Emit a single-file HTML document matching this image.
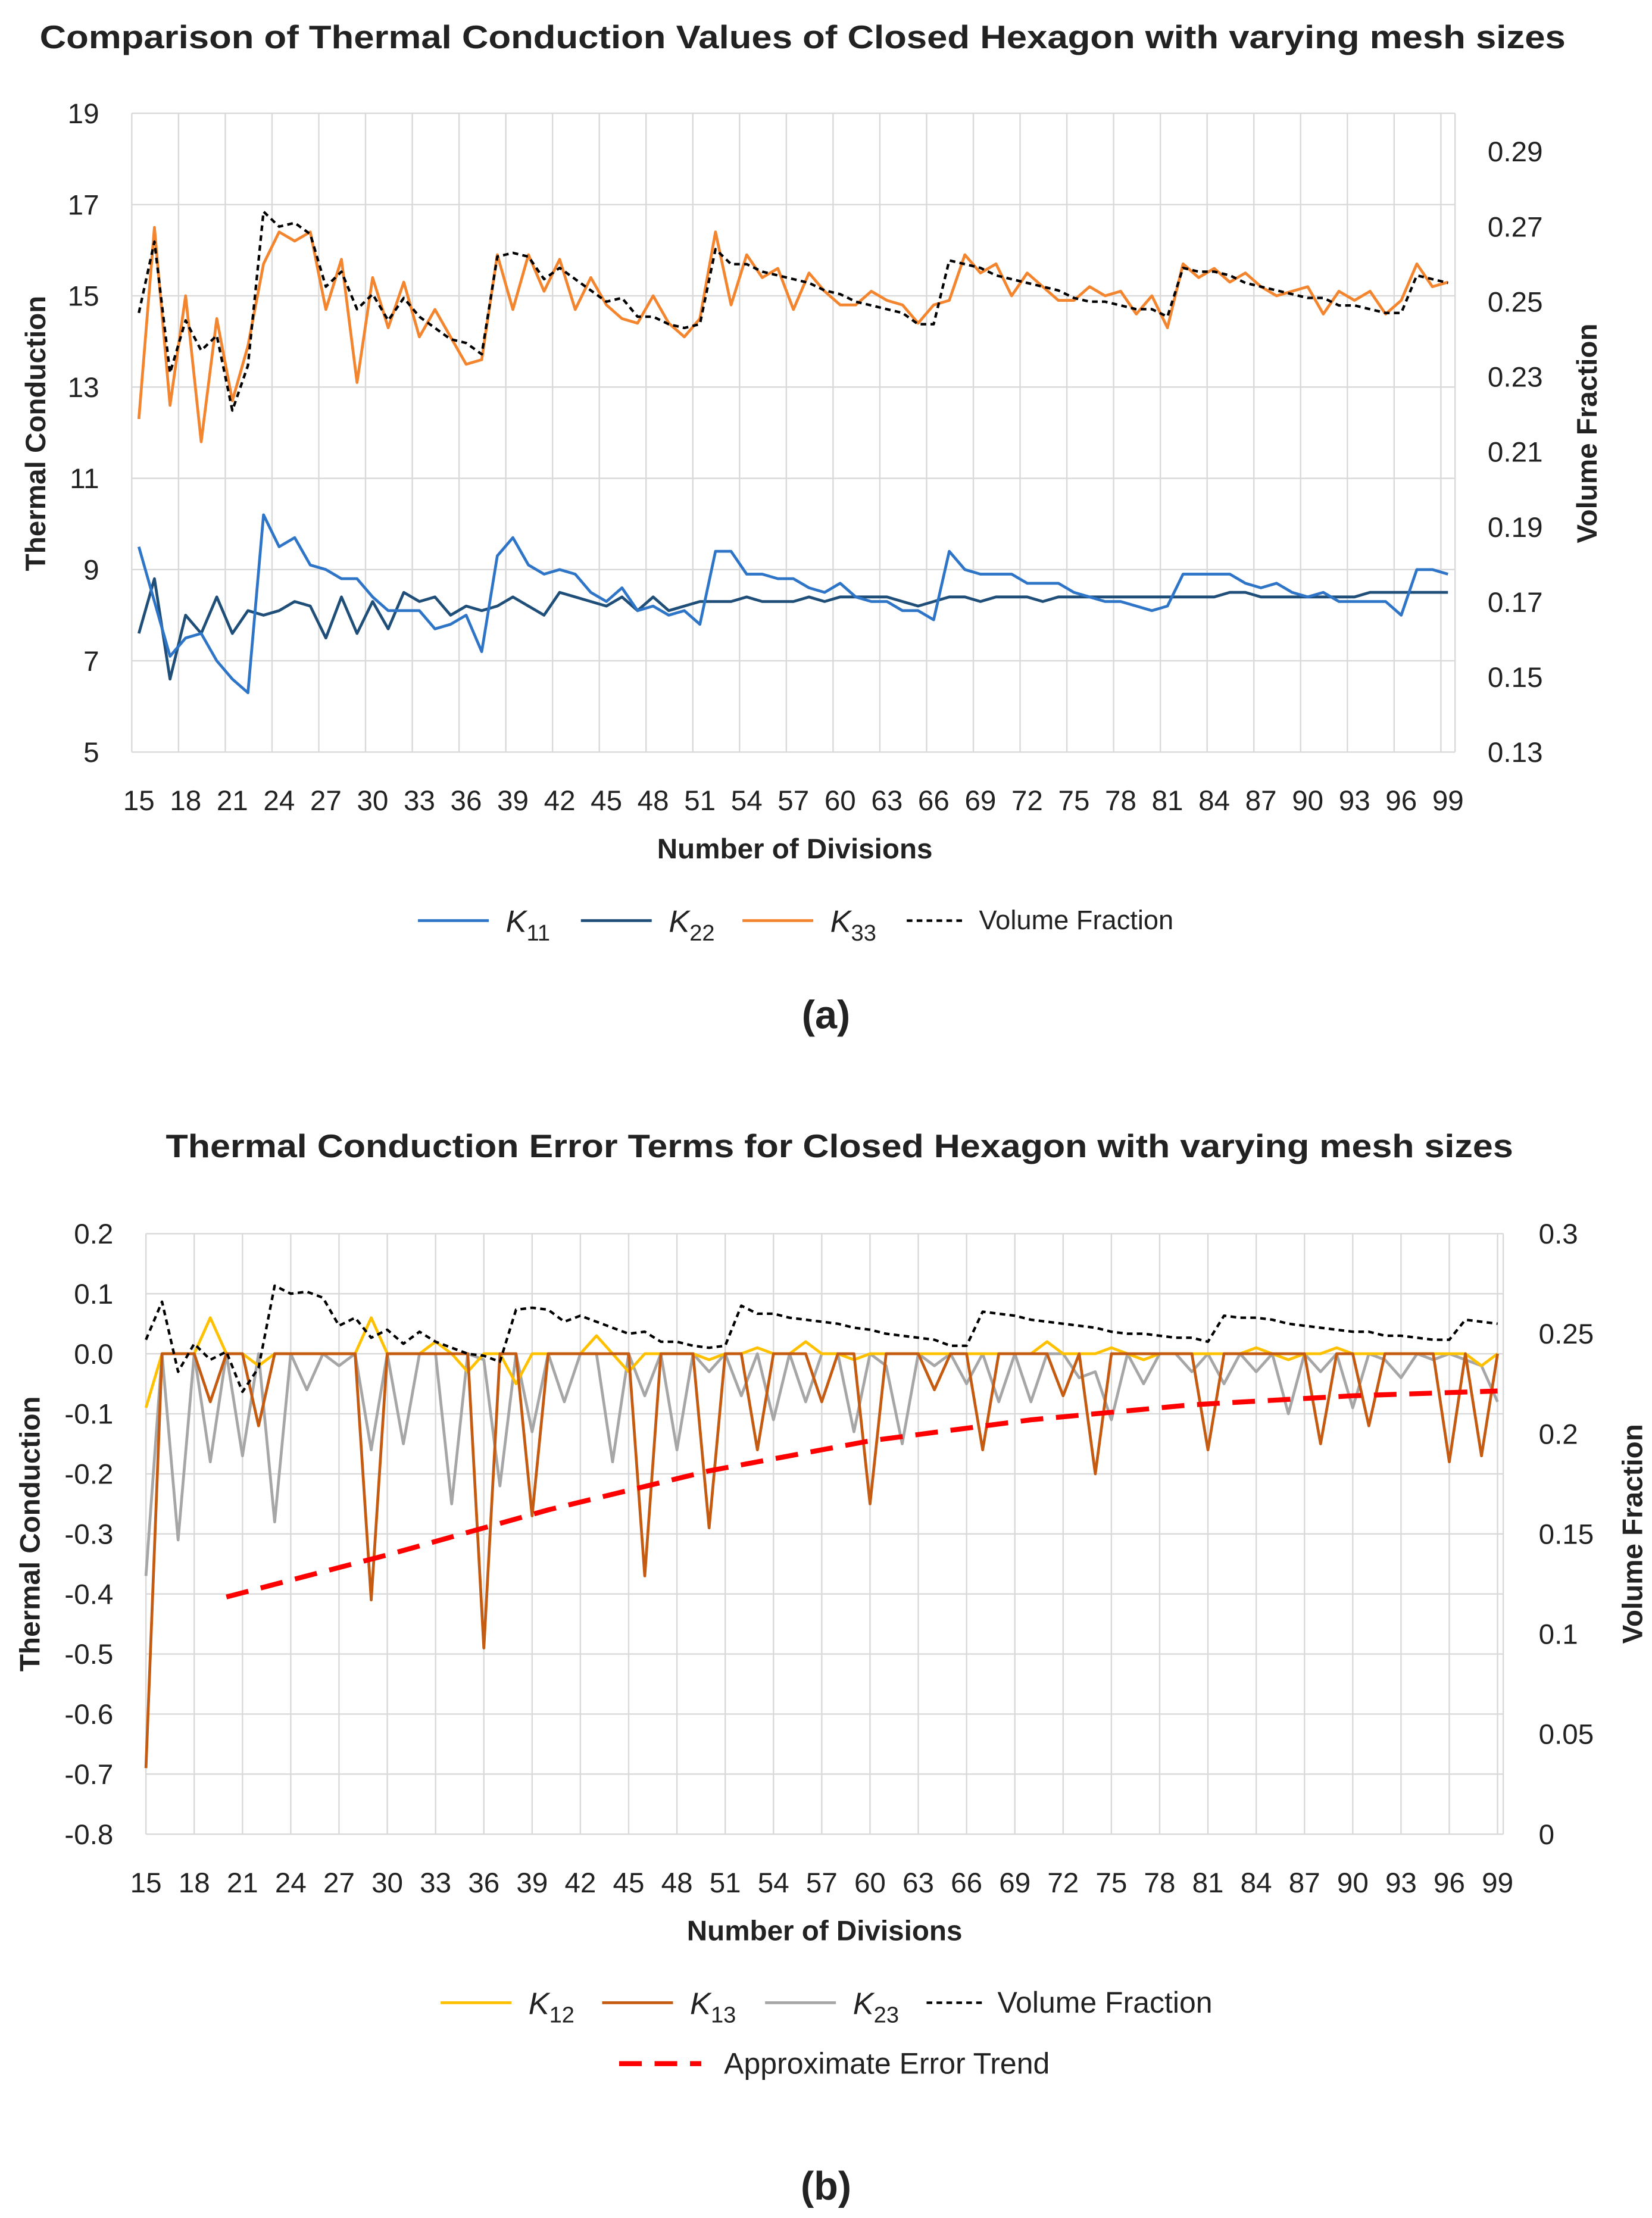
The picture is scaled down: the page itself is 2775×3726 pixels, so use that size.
<!DOCTYPE html>
<html><head><meta charset="utf-8"><style>
html,body{margin:0;padding:0;background:#fff}
svg{display:block}
text{font-family:"Liberation Sans",sans-serif;fill:#222}
</style></head><body>
<svg id="s" width="2775" height="3726" viewBox="0 0 1166 1566" preserveAspectRatio="none" xmlns="http://www.w3.org/2000/svg">
<rect width="1166" height="1566" fill="#fff"/>
<g id="ga"></g>
<g id="gb"></g>
</svg>
<script>
const divisions=[];for(let n=15;n<=99;n++)divisions.push(n);
const xTickLabels=[15,18,21,24,27,30,33,36,39,42,45,48,51,54,57,60,63,66,69,72,75,78,81,84,87,90,93,96,99];
const leftTicksA=[5,7,9,11,13,15,17,19];
const rightTicksA=[0.13,0.15,0.17,0.19,0.21,0.23,0.25,0.27,0.29];
const k11=[9.5,8.3,7.1,7.5,7.6,7.0,6.6,6.3,10.2,9.5,9.7,9.1,9.0,8.8,8.8,8.4,8.1,8.1,8.1,7.7,7.8,8.0,7.2,9.3,9.7,9.1,8.9,9.0,8.9,8.5,8.3,8.6,8.1,8.2,8.0,8.1,7.8,9.4,9.4,8.9,8.9,8.8,8.8,8.6,8.5,8.7,8.4,8.3,8.3,8.1,8.1,7.9,9.4,9.0,8.9,8.9,8.9,8.7,8.7,8.7,8.5,8.4,8.3,8.3,8.2,8.1,8.2,8.9,8.9,8.9,8.9,8.7,8.6,8.7,8.5,8.4,8.5,8.3,8.3,8.3,8.3,8.0,9.0,9.0,8.9];
const k22=[7.6,8.8,6.6,8.0,7.6,8.4,7.6,8.1,8.0,8.1,8.3,8.2,7.5,8.4,7.6,8.3,7.7,8.5,8.3,8.4,8.0,8.2,8.1,8.2,8.4,8.2,8.0,8.5,8.4,8.3,8.2,8.4,8.1,8.4,8.1,8.2,8.3,8.3,8.3,8.4,8.3,8.3,8.3,8.4,8.3,8.4,8.4,8.4,8.4,8.3,8.2,8.3,8.4,8.4,8.3,8.4,8.4,8.4,8.3,8.4,8.4,8.4,8.4,8.4,8.4,8.4,8.4,8.4,8.4,8.4,8.5,8.5,8.4,8.4,8.4,8.4,8.4,8.4,8.4,8.5,8.5,8.5,8.5,8.5,8.5];
const k33=[12.3,16.5,12.6,15.0,11.8,14.5,12.7,13.9,15.7,16.4,16.2,16.4,14.7,15.8,13.1,15.4,14.3,15.3,14.1,14.7,14.1,13.5,13.6,15.9,14.7,15.9,15.1,15.8,14.7,15.4,14.8,14.5,14.4,15.0,14.4,14.1,14.5,16.4,14.8,15.9,15.4,15.6,14.7,15.5,15.1,14.8,14.8,15.1,14.9,14.8,14.4,14.8,14.9,15.9,15.5,15.7,15.0,15.5,15.2,14.9,14.9,15.2,15.0,15.1,14.6,15.0,14.3,15.7,15.4,15.6,15.3,15.5,15.2,15.0,15.1,15.2,14.6,15.1,14.9,15.1,14.6,14.9,15.7,15.2,15.3];
const volFrac=[0.247,0.266,0.231,0.245,0.237,0.241,0.221,0.233,0.274,0.270,0.271,0.268,0.254,0.258,0.248,0.252,0.245,0.251,0.246,0.243,0.240,0.239,0.236,0.262,0.263,0.262,0.256,0.259,0.256,0.253,0.250,0.251,0.246,0.246,0.244,0.243,0.244,0.264,0.260,0.260,0.258,0.257,0.256,0.255,0.253,0.252,0.250,0.249,0.248,0.247,0.244,0.244,0.261,0.260,0.259,0.257,0.256,0.255,0.254,0.253,0.251,0.250,0.250,0.249,0.248,0.248,0.246,0.259,0.258,0.258,0.257,0.255,0.254,0.253,0.252,0.251,0.251,0.249,0.249,0.248,0.247,0.247,0.257,0.256,0.255];
const leftTicksB=[0.2,0.1,0.0,-0.1,-0.2,-0.3,-0.4,-0.5,-0.6,-0.7,-0.8];
const leftTickLabelsB=["0.2","0.1","0.0","-0.1","-0.2","-0.3","-0.4","-0.5","-0.6","-0.7","-0.8"];
const rightTicksB=[0,0.05,0.1,0.15,0.2,0.25,0.3];
const rightTickLabelsB=["0","0.05","0.1","0.15","0.2","0.25","0.3"];
const k12=[-0.09,0,0,0,0.06,0,0,-0.02,0,0,0,0,0,0,0.06,0,0,0,0.02,0,-0.03,0,0,-0.05,0,0,0,0,0.03,0,-0.03,0,0,0,0,-0.01,0,0,0.01,0,0,0.02,0,0,-0.01,0,0,0,0,0,0,0,0,0,0,0,0.02,0,0,0,0.01,0,-0.01,0,0,0,0,0,0,0.01,0,-0.01,0,0,0.01,0,0,0,0,0,0,0,0,-0.02,0];
const k13=[-0.69,0,0,0,-0.08,0,0,-0.12,0,0,0,0,0,0,-0.41,0,0,0,0,0,0,-0.49,0,0,-0.27,0,0,0,0,0,0,-0.37,0,0,0,-0.29,0,0,-0.16,0,0,0,-0.08,0,0,-0.25,0,0,0,-0.06,0,0,-0.16,0,0,0,0,-0.07,0,-0.2,0,0,0,0,0,0,-0.16,0,0,0,0,0,0,-0.15,0,0,-0.12,0,0,0,0,-0.18,0,-0.17,0];
const k23=[-0.37,0,-0.31,0,-0.18,0,-0.17,0,-0.28,0,-0.06,0,-0.02,0,-0.16,0,-0.15,0,0,-0.25,0,-0.01,-0.22,0,-0.13,0,-0.08,0,0,-0.18,0,-0.07,0,-0.16,0,-0.03,0,-0.07,0,-0.11,0,-0.08,0,0,-0.13,0,-0.02,-0.15,0,-0.02,0,-0.05,0,-0.08,0,-0.08,0,0,-0.04,-0.03,-0.11,0,-0.05,0,0,-0.03,0,-0.05,0,-0.03,0,-0.1,0,-0.03,0,-0.09,0,-0.01,-0.04,0,-0.01,0,-0.01,-0.02,-0.08];
const trendN=[20,30,40,50,60,70,80,90,99];
const trendV=[-0.405,-0.335,-0.26,-0.195,-0.145,-0.11,-0.085,-0.07,-0.062];
const NS="http://www.w3.org/2000/svg";
function el(p,t,a){const e=document.createElementNS(NS,t);for(const k in a)e.setAttribute(k,a[k]);p.appendChild(e);return e;}
function txt(p,x,y,s,a){const e=el(p,'text',Object.assign({x:x,y:y},a));e.textContent=s;return e;}
function poly(p,xs,ys,fx,fy,st){return el(p,'polyline',Object.assign({points:xs.map((v,i)=>fx(v)+','+fy(ys[i])).join(' '),fill:'none','stroke-linejoin':'round'},st));}

// ---------- Chart A ----------
const A=document.getElementById('ga');
const ax=n=>98+(n-15)*11, ayL=v=>531-(v-5)*451/14, ayR=v=>531-(v-0.13)/0.02*53;
let e;
e=txt(A,28,34,'Comparison of Thermal Conduction Values of Closed Hexagon with varying mesh sizes',{'font-size':23,'font-weight':'bold',textLength:1077,lengthAdjust:'spacingAndGlyphs'});
for(const v of leftTicksA){const l=el(A,'line',{x1:93,x2:1027,y1:ayL(v),y2:ayL(v),stroke:'#d9d9d9','stroke-width':1});

const t=txt(A,70,ayL(v)+7,String(v),{'text-anchor':'end','font-size':20});}
for(const n of xTickLabels){const g=el(A,'line',{x1:ax(n)-5,x2:ax(n)-5,y1:80,y2:531,stroke:'#d9d9d9','stroke-width':1});
const t=txt(A,ax(n),572,String(n),{'text-anchor':'middle','font-size':20});}
el(A,'line',{x1:1027,x2:1027,y1:80,y2:531,stroke:'#d9d9d9'});
for(const v of rightTicksA){const t=txt(A,1050,ayR(v)+7,v.toFixed(2),{'font-size':20});}
e=txt(A,561,606,'Number of Divisions',{'text-anchor':'middle','font-size':20,'font-weight':'bold'});
e=txt(A,0,0,'Thermal Conduction',{'text-anchor':'middle','font-size':20,'font-weight':'bold',transform:'translate(32,306) rotate(-90)'});
e=txt(A,0,0,'Volume Fraction',{'text-anchor':'middle','font-size':20,'font-weight':'bold',transform:'translate(1127,306) rotate(-90)'});
e=poly(A,divisions,k22,ax,ayL,{stroke:'#1f4e79','stroke-width':2});
e=poly(A,divisions,k11,ax,ayL,{stroke:'#2e75c8','stroke-width':2});
e=poly(A,divisions,k33,ax,ayL,{stroke:'#f4852f','stroke-width':2});
e=poly(A,divisions,volFrac,ax,ayR,{stroke:'#000','stroke-width':1.8,'stroke-dasharray':'4,3'});
function legK(p,x,y,col,sub,dash,name){const l=el(p,'line',{x1:x,x2:x+50,y1:y,y2:y,stroke:col,'stroke-width':2,'stroke-dasharray':dash||''});
const t=el(p,'text',{x:x+62,y:y+8,'font-size':22,'font-family':'Liberation Serif,serif'});
const a=el(t,'tspan',{'font-style':'italic'});a.textContent='K';const b=el(t,'tspan',{dy:6,'font-size':16});b.textContent=sub;}
legK(A,295,650,'#2e75c8','11','','legend-k11');legK(A,410,650,'#1f4e79','22','','legend-k22');legK(A,524,650,'#f4852f','33','','legend-k33');
e=el(A,'line',{x1:640,x2:680,y1:650,y2:650,stroke:'#000','stroke-width':1.8,'stroke-dasharray':'4,3'});
e=txt(A,691,656,'Volume Fraction',{'font-size':19});
e=txt(A,583,726,'(a)',{'text-anchor':'middle','font-size':28,'font-family':'Liberation Serif,serif','font-weight':'bold'});

// ---------- Chart B ----------
const B=document.getElementById('gb');
const bx=n=>103+(n-15)*954/84, byL=v=>1295-(v+0.8)*424, byR=v=>1295-v*1413.3;
e=txt(B,117,817,'Thermal Conduction Error Terms for Closed Hexagon with varying mesh sizes',{'font-size':23,'font-weight':'bold',textLength:951,lengthAdjust:'spacingAndGlyphs'});
leftTicksB.forEach((v,i)=>{const l=el(B,'line',{x1:103,x2:1061,y1:byL(v),y2:byL(v),stroke:'#d9d9d9'});
const t=txt(B,80,byL(v)+7,leftTickLabelsB[i],{'text-anchor':'end','font-size':20});});
for(const n of xTickLabels){const g=el(B,'line',{x1:bx(n),x2:bx(n),y1:871,y2:1295,stroke:'#d9d9d9'});
const t=txt(B,bx(n),1336,String(n),{'text-anchor':'middle','font-size':20});}
el(B,'line',{x1:1061,x2:1061,y1:871,y2:1295,stroke:'#d9d9d9'});
rightTicksB.forEach((v,i)=>{const t=txt(B,1086,byR(v)+7,rightTickLabelsB[i],{'font-size':20});});
e=txt(B,582,1370,'Number of Divisions',{'text-anchor':'middle','font-size':20,'font-weight':'bold'});
e=txt(B,0,0,'Thermal Conduction',{'text-anchor':'middle','font-size':20,'font-weight':'bold',transform:'translate(28,1083) rotate(-90)'});
e=txt(B,0,0,'Volume Fraction',{'text-anchor':'middle','font-size':20,'font-weight':'bold',transform:'translate(1159,1083) rotate(-90)'});
e=poly(B,divisions,k23,bx,byL,{stroke:'#a6a6a6','stroke-width':2});
e=poly(B,divisions,k12,bx,byL,{stroke:'#ffc000','stroke-width':2});
e=poly(B,divisions,k13,bx,byL,{stroke:'#c55a11','stroke-width':2});
e=poly(B,divisions,volFrac,bx,byR,{stroke:'#000','stroke-width':1.8,'stroke-dasharray':'4,3'});
e=el(B,'path',{d:'M'+trendN.map((n,i)=>bx(n)+','+byL(trendV[i])).join(' L'),fill:'none',stroke:'#ff0000','stroke-width':3.5,'stroke-dasharray':'16,9'});
legK(B,311,1414,'#ffc000','12','','legend-k12');legK(B,425,1414,'#c55a11','13','','legend-k13');legK(B,540,1414,'#a6a6a6','23','','legend-k23');
e=el(B,'line',{x1:654,x2:694,y1:1414,y2:1414,stroke:'#000','stroke-width':1.8,'stroke-dasharray':'4,3'});
e=txt(B,704,1421,'Volume Fraction',{'font-size':21});
e=el(B,'line',{x1:437,x2:495,y1:1457,y2:1457,stroke:'#ff0000','stroke-width':3.5,'stroke-dasharray':'16,9'});
e=txt(B,511,1464,'Approximate Error Trend',{'font-size':21});
e=txt(B,583,1553,'(b)',{'text-anchor':'middle','font-size':28,'font-family':'Liberation Serif,serif','font-weight':'bold'});
</script>
</body></html>
